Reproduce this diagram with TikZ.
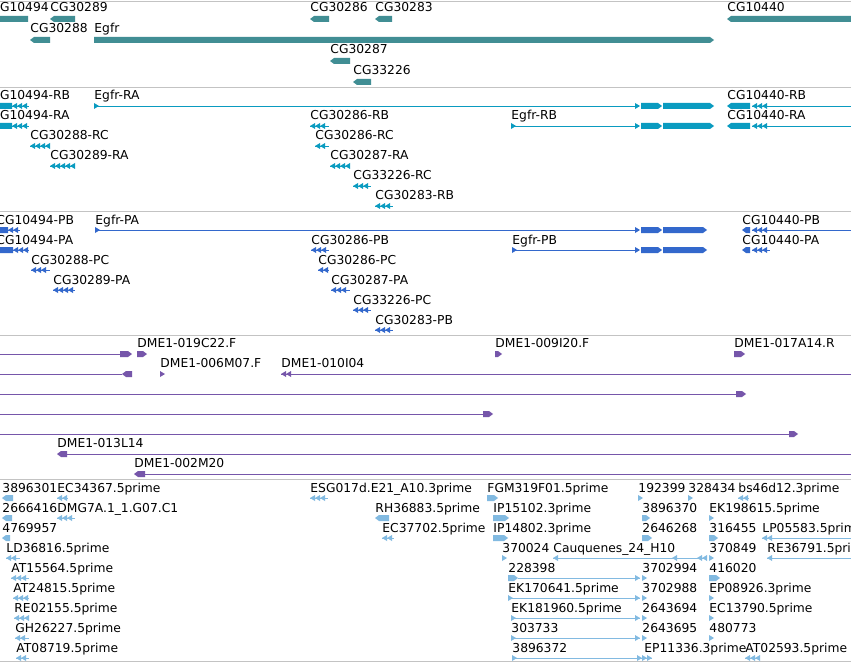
\documentclass[tikz,border=0pt]{standalone}
\usepackage{fontspec}
\setmainfont{DejaVu Sans}
\definecolor{genec}{RGB}{65,142,148}
\definecolor{trc}{RGB}{10,155,192}
\definecolor{ppc}{RGB}{51,104,204}
\definecolor{bacc}{RGB}{118,86,170}
\definecolor{estc}{RGB}{130,186,225}
\definecolor{rulec}{RGB}{195,195,195}
\newcommand\tipl[2]{\fill (#1,#2) -- (#1+5,#2-3) -- (#1+5,#2+3) -- cycle;}
\newcommand\tipr[2]{\fill (#1,#2-3) -- (#1+5,#2) -- (#1,#2+3) -- cycle;}
\newcommand\blkl[3]{\fill (#1,#3) -- (#1+4,#3-3) -- (#2,#3-3) -- (#2,#3+3) -- (#1+4,#3+3) -- cycle;}
\newcommand\blkr[3]{\fill (#1,#3-3) -- (#2-4,#3-3) -- (#2,#3) -- (#2-4,#3+3) -- (#1,#3+3) -- cycle;}
\newcommand\tipsl[3]{\draw (#1,#3) -- (#2,#3);
  \pgfmathtruncatemacro\tn{max(1,(#2-#1)/5)}
  \foreach \j in {1,...,\tn} {\pgfmathsetmacro\tx{#1+5*\j-5}\tipl{\tx}{#3}}}
\newcommand\tipsr[3]{\draw (#1,#3) -- (#2,#3);
  \pgfmathtruncatemacro\tn{max(1,(#2-#1)/5)}
  \foreach \j in {1,...,\tn} {\pgfmathsetmacro\tx{#2-5*\j}\tipr{\tx}{#3}}}
\newcommand\egfr[3]{\tipr{#1}{#3} \draw (#1,#3) -- (635,#3);
  \tipr{635}{#3} \blkr{641}{662}{#3} \blkr{663}{#2}{#3}}
\begin{document}
\begin{tikzpicture}[x=1pt,y=-1pt,line width=0.9pt,
  lbl/.style={anchor=base west,inner sep=0pt,font=\fontsize{12.3}{14}\selectfont}]
\useasboundingbox (0,0) rectangle (851,663);
\clip (0,0) rectangle (851,663);
\fill[white] (0,0) rectangle (851,663);
\foreach \y in {1.5,87.5,211.5,335.5,479.5,661.5}
  \draw[rulec,line width=1.4pt] (0,\y) -- (851,\y);

\foreach \x/\y/\t [count=\i] in {-9/12/CG10494,50/12/CG30289,310/12/CG30286,375/12/CG30283,
    727/12/CG10440,30/33/CG30288,94/33/Egfr,330/54/CG30287,353/75/CG33226}
  \node[lbl] (gene\i) at (\x,\y) {\t};
\begin{scope}[genec]
  \blkl{-6}{28}{19} \blkl{50}{75}{19} \blkl{310}{329}{19} \blkl{375}{392}{19} \blkl{727}{856}{19}
  \blkl{30}{50}{40} \blkr{94}{714}{40} \blkl{330}{350}{61} \blkl{353}{371}{82}
\end{scope}

\foreach \x/\y/\t [count=\i] in {-9/100/CG10494-RB,94/100/Egfr-RA,727/100/CG10440-RB,
    -9/120/CG10494-RA,310/120/CG30286-RB,511/120/Egfr-RB,727/120/CG10440-RA,
    30/140/CG30288-RC,315/140/CG30286-RC,50/160/CG30289-RA,330/160/CG30287-RA,
    353/180/CG33226-RC,375/200/CG30283-RB}
  \node[lbl] (tr\i) at (\x,\y) {\t};
\begin{scope}[trc]
  \blkl{-6}{12}{106} \tipsl{12}{29}{106} \egfr{94}{714}{106}
  \blkl{727}{750}{106} \tipsl{752}{770}{106} \draw (770,106) -- (851,106);
  \blkl{-6}{12}{126} \tipsl{12}{29}{126} \tipsl{310}{329}{126} \egfr{511}{714}{126}
  \blkl{727}{750}{126} \tipsl{752}{770}{126} \draw (770,126) -- (851,126);
  \tipsl{30}{50}{146} \tipsl{315}{329}{146}
  \tipsl{50}{75}{166} \tipsl{330}{350}{166}
  \tipsl{353}{371}{186} \tipsl{375}{393}{206}
\end{scope}

\foreach \x/\y/\t [count=\i] in {-4/224/CG10494-PB,95/224/Egfr-PA,742/224/CG10440-PB,
    -4/244/CG10494-PA,311/244/CG30286-PB,512/244/Egfr-PB,742/244/CG10440-PA,
    31/264/CG30288-PC,318/264/CG30286-PC,53/284/CG30289-PA,331/284/CG30287-PA,
    353/304/CG33226-PC,375/324/CG30283-PB}
  \node[lbl] (pp\i) at (\x,\y) {\t};
\begin{scope}[ppc]
  \blkl{-6}{8}{230} \tipsl{8}{20}{230} \egfr{95}{707}{230}
  \blkl{742}{750}{230} \tipsl{752}{770}{230} \draw (770,230) -- (851,230);
  \blkl{-6}{13}{250} \tipsl{13}{29}{250} \tipsl{311}{329}{250} \egfr{512}{707}{250}
  \blkl{742}{750}{250} \tipsl{752}{770}{250}
  \tipsl{31}{50}{270} \tipsl{318}{329}{270}
  \tipsl{53}{75}{290} \tipsl{331}{350}{290}
  \tipsl{353}{371}{310} \tipsl{375}{393}{330}
\end{scope}

\foreach \x/\y/\t [count=\i] in {137/347/DME1-019C22.F,495/347/DME1-009I20.F,734/347/DME1-017A14.R,
    160/367/DME1-006M07.F,281/367/DME1-010I04,57/447/DME1-013L14,134/467/DME1-002M20}
  \node[lbl] (bac\i) at (\x,\y) {\t};
\begin{scope}[bacc]
  \draw (0,354) -- (120,354); \blkr{120}{132}{354}
  \blkr{137}{147}{354} \blkr{495}{502}{354} \blkr{734}{745}{354}
  \draw (0,374) -- (122,374); \blkl{122}{132}{374}
  \tipr{160}{374} \tipsl{281}{292}{374} \draw (292,374) -- (851,374);
  \draw (0,394) -- (736,394); \blkr{736}{746}{394}
  \draw (0,414) -- (483,414); \blkr{483}{493}{414}
  \draw (0,434) -- (789,434); \blkr{789}{798}{434}
  \blkl{57}{67}{454} \draw (67,454) -- (851,454);
  \blkl{134}{145}{474} \draw (145,474) -- (851,474);
\end{scope}

\foreach \x/\k/\t [count=\i] in {2/0/3896301,57/0/EC34367.5prime,310/0/ESG017d.E21\_A10.3prime,
    487/0/FGM319F01.5prime,638/0/192399,688/0/328434,738/0/bs46d12.3prime,
    2/1/2666416,57/1/DMG7A.1\_1.G07.C1,375/1/RH36883.5prime,493/1/IP15102.3prime,
    642/1/3896370,709/1/EK198615.5prime,
    2/2/4769957,382/2/EC37702.5prime,493/2/IP14802.3prime,642/2/2646268,709/2/316455,
    762/2/LP05583.5prime,
    6/3/LD36816.5prime,502/3/370024,553/3/Cauquenes\_24\_H10,709/3/370849,767/3/RE36791.5prime,
    11/4/AT15564.5prime,508/4/228398,642/4/3702994,709/4/416020,
    13/5/AT24815.5prime,508/5/EK170641.5prime,642/5/3702988,709/5/EP08926.3prime,
    14/6/RE02155.5prime,511/6/EK181960.5prime,642/6/2643694,709/6/EC13790.5prime,
    15/7/GH26227.5prime,511/7/303733,642/7/2643695,709/7/480773,
    16/8/AT08719.5prime,512/8/3896372,644/8/EP11336.3prime,745/8/AT02593.5prime}
  \node[lbl] (est\i) at (\x,492+20*\k) {\t};
\begin{scope}[estc]
  \blkl{2}{13}{498} \tipsl{57}{68}{498} \tipsl{310}{328}{498} \blkr{487}{498}{498}
  \tipr{638}{498} \tipr{688}{498} \tipsl{738}{749}{498}
  \blkl{2}{12}{518} \tipsl{57}{75}{518} \blkl{375}{389}{518} \blkr{493}{509}{518}
  \blkr{642}{650}{518} \tipr{709}{518}
  \blkl{2}{10}{538} \tipsl{382}{394}{538} \blkr{493}{508}{538} \blkr{642}{652}{538}
  \blkr{709}{718}{538} \tipsl{762}{775}{538} \draw (775,538) -- (851,538);
  \tipsl{6}{20}{558} \tipr{502}{558} \tipl{553}{558} \draw (553,558) -- (707,558);
  \tipl{672}{558} \tipsl{697}{707}{558} \tipr{709}{558}
  \tipl{767}{558} \draw (767,558) -- (851,558);
  \tipsl{11}{29}{578} \blkr{508}{518}{578} \draw (518,578) -- (640,578); \tipr{635}{578}
  \tipr{642}{578} \blkr{709}{720}{578}
  \tipsl{13}{29}{598} \tipr{508}{598} \draw (508,598) -- (640,598); \tipr{635}{598}
  \tipr{642}{598} \tipr{709}{598}
  \tipsl{14}{29}{618} \tipr{511}{618} \draw (511,618) -- (640,618); \tipr{635}{618}
  \tipr{642}{618} \tipr{709}{618}
  \tipsl{15}{29}{638} \tipr{511}{638} \draw (511,638) -- (640,638); \tipr{635}{638}
  \tipr{642}{638} \tipr{709}{638}
  \tipsl{16}{29}{658} \tipr{512}{658} \draw (512,658) -- (640,658); \tipsr{635}{652}{658}
  \tipsl{745}{760}{658}
\end{scope}
\end{tikzpicture}
\end{document}
